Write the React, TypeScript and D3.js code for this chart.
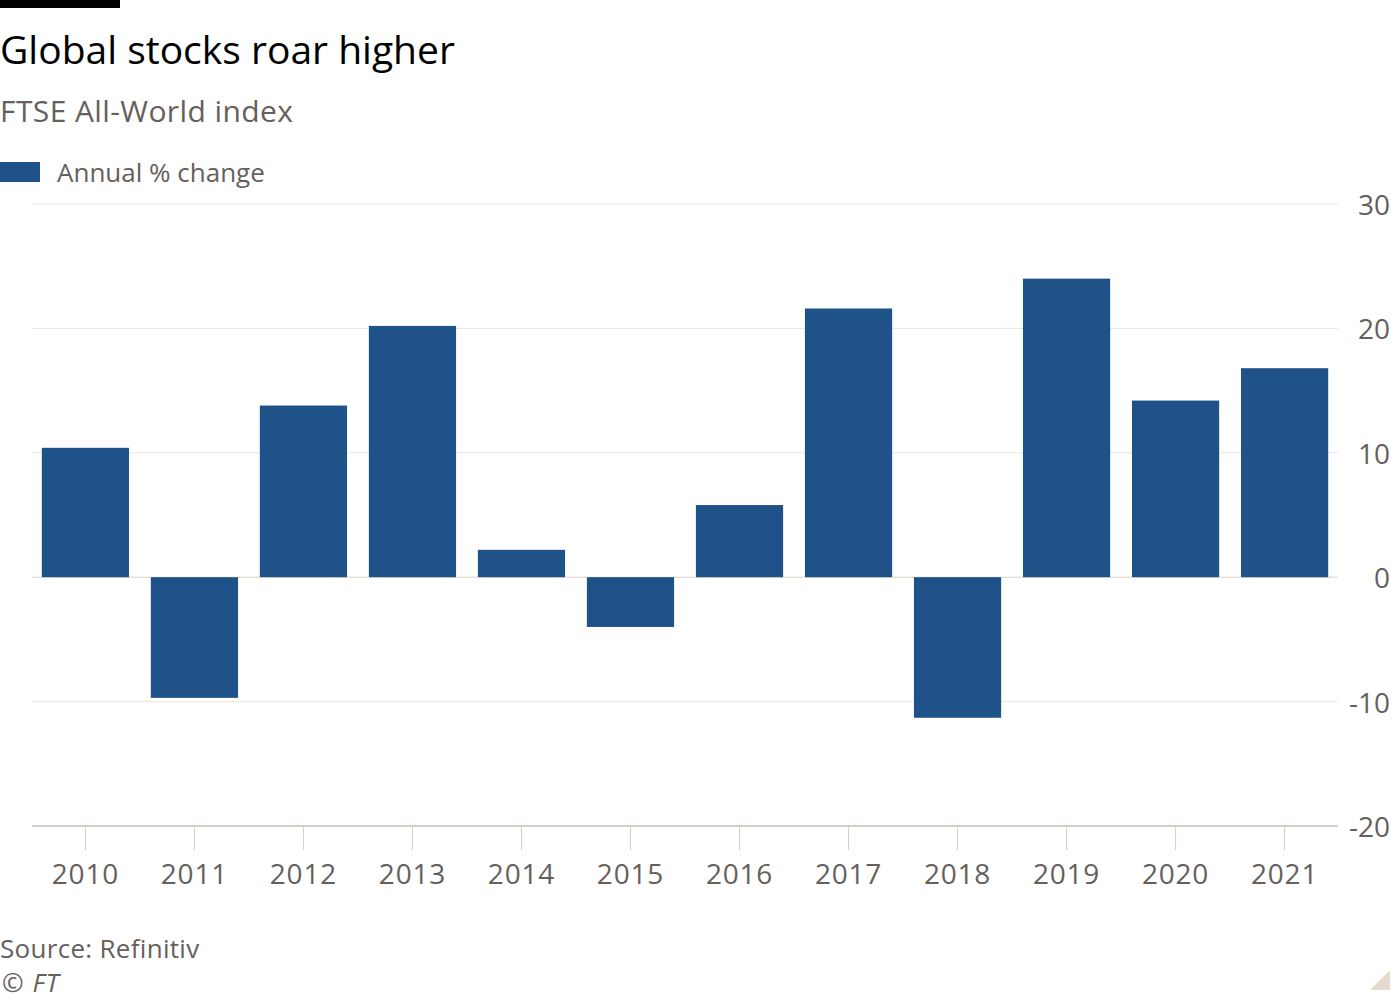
import React from "react";
import * as d3 from "d3";

const years = ["2010","2011","2012","2013","2014","2015","2016","2017","2018","2019","2020","2021"];
const changes = [10.4, -9.7, 13.8, 20.2, 2.2, -4.0, 5.8, 21.6, -11.3, 24.0, 14.2, 16.8];
const yTicks = [-20, -10, 0, 10, 20, 30];

const W = 1400, H = 1000;
const left = 32, right = 1338, top = 204, bottom = 826;
const font = "'Open Sans', 'Noto Sans', sans-serif";
const textGrey = "#66605c";

export default function App() {
  const x = d3.scaleBand<string>().domain(years).range([left, right]).paddingInner(0.2).paddingOuter(0.09);
  const y = d3.scaleLinear().domain([-20, 30]).range([bottom, top]);
  return (
    <div style={{ position: "absolute", left: 0, top: 0 }}>
      <svg width={W} height={H} style={{ display: "block", background: "#fff" }}>
        <rect x={0} y={0} width={120} height={8} fill="#000" />
        <text x={0} y={64} fontFamily={font} fontSize={39} fill="#000">Global stocks roar higher</text>
        <text x={0} y={122} fontFamily={font} fontSize={30} letterSpacing={0.4} fill={textGrey}>FTSE All-World index</text>
        <rect x={0} y={162} width={40} height={20} fill="#1f5289" />
        <text x={57} y={182} fontFamily={font} fontSize={26} fill={textGrey}>Annual % change</text>
        {yTicks.map(t => (
          <g key={t}>
            {t !== -20 && (
              <line x1={left} x2={right} y1={y(t)} y2={y(t)} stroke={t === 0 ? "#ddd2c8" : "#ede4dc"} strokeWidth={1} />
            )}
            <text x={1390} y={y(t) + 11} textAnchor="end" fontFamily={font} fontSize={28} fill={textGrey}>{t}</text>
          </g>
        ))}
        {years.map((yr, i) => {
          const v = changes[i];
          return (
            <rect key={yr} x={x(yr)} width={x.bandwidth()} y={y(Math.max(0, v))} height={Math.abs(y(v) - y(0))} fill="#1f5289" />
          );
        })}
        <line x1={left} x2={right} y1={y(-20)} y2={y(-20)} stroke="#d6cdc4" strokeWidth={2} />
        {years.map(yr => {
          const cx = (x(yr) as number) + x.bandwidth() / 2;
          return (
            <g key={"t" + yr}>
              <line x1={cx} x2={cx} y1={bottom} y2={bottom + 24} stroke="#d6cdc4" strokeWidth={1} />
              <text x={cx} y={884} textAnchor="middle" fontFamily={font} fontSize={28} letterSpacing={0.8} fill={textGrey}>{yr}</text>
            </g>
          );
        })}
        <text x={0} y={958} fontFamily={font} fontSize={26} letterSpacing={0.3} fill={textGrey}>Source: Refinitiv</text>
        <text x={2} y={992} fontFamily={font} fontSize={26} fontStyle="italic" letterSpacing={1} fill={textGrey}>© FT</text>
        <path d="M1390,970 L1390,990 L1370,990 Z" fill="#e6d9ce" />
      </svg>
    </div>
  );
}
